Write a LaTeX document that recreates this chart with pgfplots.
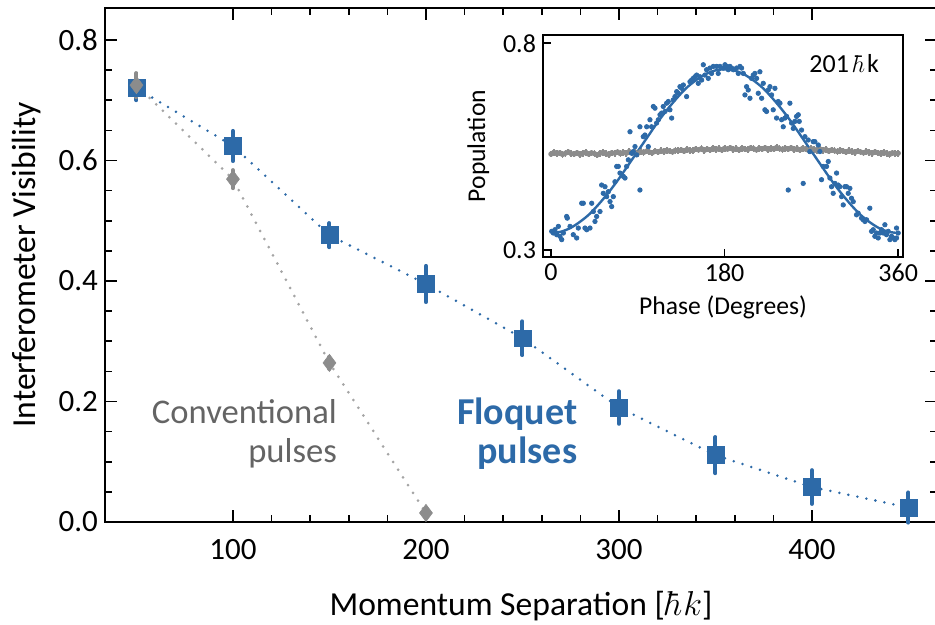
\documentclass[border=0pt]{standalone}
\usepackage{fontspec}
\setmainfont{Carlito}
\usepackage{pgfplots}
\usepackage{pgfplotstable}
\pgfplotsset{compat=1.18}
\definecolor{fblue}{RGB}{45,106,168}
\definecolor{cgray}{RGB}{140,140,140}
\definecolor{lgray}{RGB}{165,165,165}
\definecolor{tgray}{RGB}{100,100,100}

\pgfplotstableread{
x y e
50 0.720 0.020
100 0.624 0.025
150 0.476 0.020
200 0.395 0.030
250 0.305 0.028
300 0.190 0.027
350 0.111 0.030
400 0.058 0.028
450 0.024 0.025
}\floquet

\pgfplotstableread{
x y e
50 0.725 0.020
100 0.569 0.015
150 0.264 0.010
200 0.015 0.005
}\conv

\pgfplotstableread{
x y
0.7 0.345
2.4 0.341
4.1 0.349
5.9 0.337
7.6 0.357
9.3 0.333
11.1 0.325
12.8 0.341
16.2 0.381
16.9 0.377
19.7 0.357
23.1 0.337
26.6 0.329
28.3 0.353
31.8 0.413
33.5 0.413
35.2 0.353
37.0 0.349
40.4 0.353
42.2 0.413
43.9 0.393
45.6 0.369
47.3 0.381
50.8 0.393
52.5 0.457
54.2 0.437
56.0 0.453
57.7 0.429
59.4 0.441
61.2 0.417
62.9 0.405
64.6 0.429
66.3 0.465
68.1 0.502
69.8 0.502
71.5 0.486
75.0 0.478
76.7 0.474
78.4 0.502
80.2 0.518
81.9 0.586
83.6 0.534
85.3 0.538
87.1 0.550
88.8 0.530
92.2 0.445
92.2 0.598
95.7 0.574
97.4 0.578
99.2 0.598
100.9 0.550
102.6 0.615
104.3 0.598
106.1 0.647
107.8 0.643
109.5 0.607
111.3 0.615
113.0 0.627
114.7 0.631
116.4 0.647
118.2 0.635
119.9 0.655
121.6 0.659
123.3 0.639
125.1 0.619
126.8 0.663
128.5 0.671
130.3 0.683
132.0 0.679
133.7 0.695
135.4 0.691
137.2 0.699
140.6 0.671
144.1 0.707
145.8 0.711
147.5 0.715
149.3 0.719
151.0 0.723
152.7 0.703
154.4 0.719
156.2 0.711
157.9 0.748
159.6 0.723
161.3 0.736
163.1 0.715
164.8 0.740
166.5 0.727
168.3 0.744
171.7 0.744
173.4 0.727
175.2 0.744
178.6 0.740
180.4 0.748
182.1 0.744
183.8 0.736
185.5 0.744
187.3 0.740
189.0 0.736
192.4 0.740
194.2 0.727
195.9 0.744
197.6 0.740
199.4 0.727
201.1 0.675
202.8 0.695
204.5 0.687
206.3 0.667
208.0 0.715
209.7 0.723
211.4 0.727
213.2 0.715
214.9 0.679
216.6 0.731
218.4 0.667
220.1 0.703
221.8 0.639
223.5 0.635
225.3 0.687
227.0 0.695
228.7 0.675
230.4 0.639
232.2 0.691
233.9 0.619
235.6 0.659
237.4 0.655
239.1 0.615
240.8 0.598
242.5 0.619
244.3 0.623
246.0 0.445
247.7 0.655
249.5 0.607
251.2 0.594
252.9 0.611
254.6 0.623
256.4 0.627
257.4 0.611
259.8 0.590
261.5 0.461
263.3 0.574
266.7 0.566
268.4 0.538
271.9 0.562
273.6 0.562
277.1 0.554
278.8 0.538
280.5 0.470
282.3 0.502
285.7 0.502
287.5 0.514
289.2 0.474
290.9 0.453
292.6 0.437
294.4 0.461
296.1 0.486
297.8 0.457
299.5 0.453
301.3 0.429
303.0 0.409
304.7 0.453
306.5 0.453
308.2 0.437
309.9 0.449
311.6 0.425
313.4 0.417
316.8 0.385
318.5 0.389
322.0 0.377
323.7 0.373
325.5 0.369
327.2 0.373
330.6 0.401
332.4 0.345
334.1 0.349
335.8 0.333
337.6 0.341
339.3 0.329
341.0 0.341
342.7 0.349
344.5 0.341
346.2 0.361
347.9 0.337
349.7 0.345
351.4 0.325
353.1 0.333
354.8 0.329
356.6 0.325
358.3 0.353
360.0 0.341
358.3 0.329
}\bluescatter

\pgfplotstableread{
x y
0 0.532
3 0.536
6 0.533
9 0.535
12 0.531
15 0.534
18 0.537
21 0.533
24 0.532
27 0.535
30 0.531
33 0.534
36 0.536
39 0.532
42 0.535
45 0.533
48 0.530
51 0.534
54 0.536
57 0.533
60 0.531
63 0.535
66 0.534
69 0.537
72 0.533
75 0.536
78 0.534
81 0.538
84 0.535
87 0.537
90 0.534
93 0.538
96 0.536
99 0.539
102 0.537
105 0.535
108 0.539
111 0.537
114 0.540
117 0.538
120 0.541
123 0.539
126 0.537
129 0.541
132 0.540
135 0.542
138 0.539
141 0.543
144 0.541
147 0.540
150 0.544
153 0.542
156 0.545
159 0.541
162 0.544
165 0.542
168 0.546
171 0.543
174 0.545
177 0.542
180 0.546
183 0.544
186 0.547
189 0.543
192 0.545
195 0.542
198 0.546
201 0.544
204 0.543
207 0.547
210 0.545
213 0.542
216 0.546
219 0.544
222 0.547
225 0.543
228 0.546
231 0.544
234 0.548
237 0.545
240 0.543
243 0.546
246 0.544
249 0.547
252 0.543
255 0.545
258 0.542
261 0.546
264 0.544
267 0.541
270 0.545
273 0.543
276 0.540
279 0.544
282 0.541
285 0.543
288 0.539
291 0.542
294 0.540
297 0.538
300 0.541
303 0.539
306 0.537
309 0.540
312 0.538
315 0.536
318 0.539
321 0.537
324 0.535
327 0.538
330 0.536
333 0.534
336 0.537
339 0.535
342 0.533
345 0.536
348 0.534
351 0.531
354 0.535
357 0.533
360 0.534
}\grayscatter

\pgfplotstableread{
x y
0 0.341
10 0.344
20 0.353
30 0.368
40 0.387
50 0.412
60 0.440
70 0.471
80 0.505
90 0.539
100 0.573
110 0.607
120 0.638
130 0.666
140 0.691
150 0.710
160 0.725
170 0.734
180 0.737
190 0.734
200 0.725
210 0.710
220 0.691
230 0.666
240 0.638
250 0.607
260 0.573
270 0.539
280 0.505
290 0.471
300 0.440
310 0.412
320 0.387
330 0.368
340 0.353
350 0.344
360 0.341
}\fitcurve

\begin{document}
\begin{tikzpicture}
\useasboundingbox (0,0) rectangle (467.5pt,312.5pt);
\begin{axis}[
  at={(52.5pt,51.5pt)}, anchor=south west,
  scale only axis, width=416pt, height=257pt,
  xmin=33.7, xmax=464.8, ymin=0, ymax=0.853,
  xtick={100,200,300,400}, minor x tick num=4,
  ytick={0,0.2,0.4,0.6,0.8}, minor y tick num=3,
  tick align=inside,
  major tick length=6pt, minor tick length=3.5pt,
  every tick/.style={black, line width=0.8pt},
  axis line style={line width=1pt},
  /pgf/number format/assume math mode=true,
  yticklabel style={/pgf/number format/.cd, fixed, fixed zerofill, precision=1},
  tick label style={font=\fontsize{15.5}{18}\selectfont},
  label style={font=\fontsize{16.8}{19}\selectfont},
  xlabel={Momentum Separation [\kern1pt$\hbar\kern0.5pt k$]},
  ylabel={Interferometer Visibility},
  xticklabel style={yshift=-5pt},
  xlabel style={yshift=-9pt},
  ylabel style={yshift=2pt},
  clip=false,
]
\addplot[fblue, line width=1.4pt, dash pattern=on 0pt off 4.6pt, line cap=round,
  mark=square*, mark size=4.2pt, mark options={solid, fill=fblue, draw=fblue, line width=0.3pt},
  error bars/.cd, y dir=both, y explicit, error mark=none,
  error bar style={line width=2pt, solid, fblue}]
  table[x=x, y=y, y error=e] {\floquet};
\addplot[lgray, line width=1.5pt, dash pattern=on 0pt off 4.6pt, line cap=round,
  mark=diamond*, mark size=4.3pt, mark options={solid, fill=cgray, draw=cgray, line width=0.3pt},
  error bars/.cd, y dir=both, y explicit, error mark=none,
  error bar style={line width=2pt, solid, cgray}]
  table[x=x, y=y, y error=e] {\conv};
\node[anchor=east, align=right, text=tgray, font=\fontsize{17.3}{19.5}\selectfont]
  at (axis cs:157.5,0.147) {Conventional\\pulses};
\node[anchor=east, align=right, text=fblue, font=\bfseries\fontsize{19}{19.5}\selectfont]
  at (axis cs:282,0.147) {Floquet\\pulses};
\end{axis}

\begin{axis}[
  at={(271.5pt,184pt)}, anchor=south west,
  scale only axis, width=180pt, height=111pt,
  xmin=-8.3, xmax=365, ymin=0.283, ymax=0.82,
  xtick={0,180,360}, ytick={0.3,0.8},
  xtick pos=bottom, ytick pos=left,
  tick align=inside, major tick length=4pt,
  every tick/.style={black, line width=0.8pt},
  axis line style={line width=1pt},
  axis background/.style={fill=white},
  /pgf/number format/assume math mode=true,
  yticklabel style={/pgf/number format/.cd, fixed, fixed zerofill, precision=1},
  tick label style={font=\fontsize{13}{15}\selectfont},
  label style={font=\fontsize{12.8}{15}\selectfont},
  xlabel={Phase (Degrees)},
  ylabel={Population},
  clip=false,
]
\addplot[only marks, cgray, mark=*, mark size=1.15pt,
  error bars/.cd, y dir=both, y fixed=0.008, error mark=none,
  error bar style={line width=0.9pt, cgray}]
  table[x=x, y=y] {\grayscatter};
\addplot[only marks, fblue, mark=*, mark size=1.1pt] table[x=x, y=y] {\bluescatter};
\addplot[fblue, line width=1.2pt, smooth, no marks] table[x=x, y=y] {\fitcurve};
\node[font=\fontsize{13}{15}\selectfont] at (axis cs:304,0.752) {201\,\hbox{$\hbar$}\kern1pt k};
\end{axis}
\end{tikzpicture}
\end{document}
